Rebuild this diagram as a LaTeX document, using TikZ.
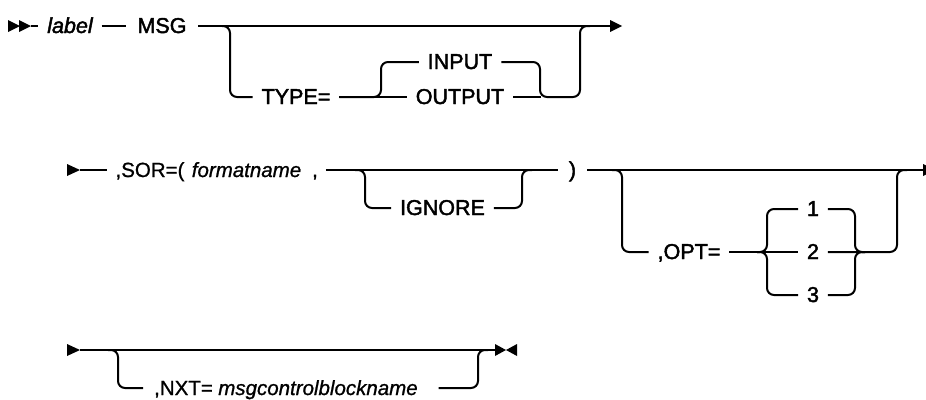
\documentclass[tikz,border=0pt]{standalone}
\usepackage{fontspec}
\setmainfont{Liberation Sans}[FakeBold=2]
\newfontfamily\arialish{Liberation Sans}[FakeBold=1]
\begin{document}
\begin{tikzpicture}[x=1pt,y=-1pt,line width=2pt,
  kw/.style={inner xsep=8pt,inner ysep=0pt,text height=14pt,text depth=0pt,anchor=center,font=\fontsize{21.5}{25}\selectfont},
  kwa/.style={kw,font=\arialish\fontsize{20.5}{25}\selectfont},
  rc/.style={rounded corners=7pt},
  tip/.style={fill=black,draw=none}]
\useasboundingbox (0,0) rectangle (926,399);
% ---------- row 1 ----------
\node[kw] (lab) at (70,26) {\itshape label};
\node[kw,inner xsep=11pt] (msg) at (162,26) {MSG};
\node[kw] (type) at (296,97) {TYPE=};
\node[kw] (inp) at (460,62) {INPUT};
\node[kw] (out) at (460,97) {OUTPUT};
\coordinate (s1) at (31,26);
\coordinate (e1) at (610,26);
\fill[tip] (8,20) -- (20,26) -- (8,32) -- cycle;
\fill[tip] (19,20) -- (31,26) -- (19,32) -- cycle;
\draw (s1) -- (lab.west);
\draw (lab.east) -- (msg.west);
\draw (msg.east) -- (e1);
\fill[tip] (e1) ++(0,-6) -- ++(12,6) -- ++(-12,6) -- cycle;
\draw[rc] (222,26) -- (230,26) -- (230,97) -- (type.west);
\draw (type.east) -- (out.west);
\draw[rc] (type.east) -- (381,97) -- (381,62) -- (inp.west);
\draw[rc] (inp.east) -- (540,62) -- (540,97) -- (580,97) -- (580,26) -- (590,26);
\draw (out.east) -- (541,97);
% ---------- row 2 ----------
\node[kwa] (sor) at (150,170) {,SOR=(};
\node[kwa,inner xsep=3pt] (fmt) at (246.5,170) {\itshape formatname};
\node[kwa,inner xsep=7pt] (com) at (315,170) {,};
\node[kw] (ign) at (442.5,208) {IGNORE};
\node[kw,inner xsep=10pt] (rp) at (572.5,170) {)};
\node[kw] (opt) at (689,252) {,OPT=};
\node[kw,inner xsep=8pt] (o1) at (813,209) {1};
\node[kw,inner xsep=8pt] (o2) at (813,252) {2};
\node[kw,inner xsep=8pt] (o3) at (813,295) {3};
\coordinate (s2) at (80,170);
\coordinate (e2) at (923,170);
\fill[tip] (67,164) -- (s2) -- (67,176) -- cycle;
\draw (s2) -- (sor.west);
\draw (com.east) -- (rp.west);
\draw[rc] (355,170) -- (365,170) -- (365,208) -- (ign.west);
\draw[rc] (ign.east) -- (522,208) -- (522,170) -- (532,170);
\draw (rp.east) -- (e2);
\fill[tip] (e2) ++(0,-6) -- ++(12,6) -- ++(-12,6) -- cycle;
\draw[rc] (612,170) -- (622,170) -- (622,252) -- (opt.west);
\draw (opt.east) -- (o2.west);
\draw[rc] (o1.west) -- (767,209) -- (767,252) -- (757,252);
\draw[rc] (o3.west) -- (767,295) -- (767,252) -- (757,252);
\draw[rc] (o1.east) -- (855,209) -- (855,252) -- (865,252);
\draw[rc] (o3.east) -- (855,295) -- (855,252) -- (865,252);
\draw[rc] (o2.east) -- (897,252) -- (897,170) -- (907,170);
% ---------- row 3 ----------
\node[kwa,inner xsep=10pt] (nxt) at (183.5,388) {,NXT=};
\node[kwa,inner xsep=20pt] (mcb) at (318,388) {\itshape msgcontrolblockname};
\coordinate (s3) at (80,350);
\coordinate (e3) at (495,350);
\fill[tip] (67,344) -- (s3) -- (67,356) -- cycle;
\draw (s3) -- (e3);
\draw[rc] (108,350) -- (118,350) -- (118,388) -- (nxt.west);
\draw[rc] (mcb.east) -- (478,388) -- (478,350) -- (488,350);
\fill[tip] (495,344) -- (506,350) -- (495,356) -- cycle;
\fill[tip] (517,344) -- (506,350) -- (517,356) -- cycle;
\end{tikzpicture}
\end{document}
